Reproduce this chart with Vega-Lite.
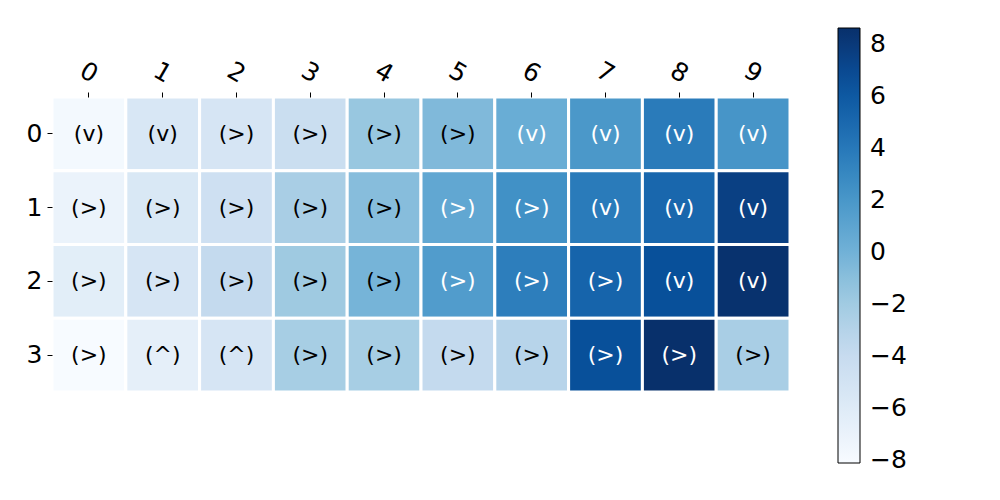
{
  "$schema": "https://vega.github.io/schema/vega-lite/v6.json",
  "width": 738,
  "height": 295,
  "autosize": "none",
  "padding": {"left": 52, "top": 97, "right": 210, "bottom": 108},
  "background": "white",
  "config": {
    "view": {"stroke": null},
    "font": "DejaVu Sans"
  },
  "data": {
    "values": [
      {"row": "0", "col": "0", "value": -7.8, "label": "(v)"},
      {"row": "0", "col": "1", "value": -5.5, "label": "(v)"},
      {"row": "0", "col": "2", "value": -5.3, "label": "(>)"},
      {"row": "0", "col": "3", "value": -4.3, "label": "(>)"},
      {"row": "0", "col": "4", "value": -1.6, "label": "(>)"},
      {"row": "0", "col": "5", "value": -0.6, "label": "(>)"},
      {"row": "0", "col": "6", "value": 0.35, "label": "(v)"},
      {"row": "0", "col": "7", "value": 1.9, "label": "(v)"},
      {"row": "0", "col": "8", "value": 3.8, "label": "(v)"},
      {"row": "0", "col": "9", "value": 2.1, "label": "(v)"},
      {"row": "1", "col": "0", "value": -7.1, "label": "(>)"},
      {"row": "1", "col": "1", "value": -5.6, "label": "(>)"},
      {"row": "1", "col": "2", "value": -4.6, "label": "(>)"},
      {"row": "1", "col": "3", "value": -2.4, "label": "(>)"},
      {"row": "1", "col": "4", "value": -0.9, "label": "(>)"},
      {"row": "1", "col": "5", "value": 0.8, "label": "(>)"},
      {"row": "1", "col": "6", "value": 2.4, "label": "(>)"},
      {"row": "1", "col": "7", "value": 3.8, "label": "(v)"},
      {"row": "1", "col": "8", "value": 5.1, "label": "(v)"},
      {"row": "1", "col": "9", "value": 7.6, "label": "(v)"},
      {"row": "2", "col": "0", "value": -6.4, "label": "(>)"},
      {"row": "2", "col": "1", "value": -5.3, "label": "(>)"},
      {"row": "2", "col": "2", "value": -3.8, "label": "(>)"},
      {"row": "2", "col": "3", "value": -1.9, "label": "(>)"},
      {"row": "2", "col": "4", "value": -0.2, "label": "(>)"},
      {"row": "2", "col": "5", "value": 1.6, "label": "(>)"},
      {"row": "2", "col": "6", "value": 3.6, "label": "(>)"},
      {"row": "2", "col": "7", "value": 5.3, "label": "(>)"},
      {"row": "2", "col": "8", "value": 6.6, "label": "(v)"},
      {"row": "2", "col": "9", "value": 8.5, "label": "(v)"},
      {"row": "3", "col": "0", "value": -8.12, "label": "(>)"},
      {"row": "3", "col": "1", "value": -6.6, "label": "(^)"},
      {"row": "3", "col": "2", "value": -5.3, "label": "(^)"},
      {"row": "3", "col": "3", "value": -2.3, "label": "(>)"},
      {"row": "3", "col": "4", "value": -2.3, "label": "(>)"},
      {"row": "3", "col": "5", "value": -3.8, "label": "(>)"},
      {"row": "3", "col": "6", "value": -3.1, "label": "(>)"},
      {"row": "3", "col": "7", "value": 6.6, "label": "(>)"},
      {"row": "3", "col": "8", "value": 8.62, "label": "(>)"},
      {"row": "3", "col": "9", "value": -2.4, "label": "(>)"}
    ]
  },
  "encoding": {
    "x": {
      "field": "col",
      "type": "ordinal",
      "scale": {"paddingInner": 0, "paddingOuter": 0},
      "axis": {
        "orient": "top",
        "title": null,
        "domain": false,
        "labelAngle": 30,
        "labelAlign": "center",
        "labelBaseline": "middle",
        "labelFontSize": 25,
        "labelColor": "black",
        "labelPadding": 20,
        "tickColor": "black",
        "tickSize": 5,
        "tickWidth": 1
      }
    },
    "y": {
      "field": "row",
      "type": "ordinal",
      "scale": {"paddingInner": 0, "paddingOuter": 0},
      "axis": {
        "title": null,
        "domain": false,
        "labelAngle": 0,
        "labelFontSize": 25,
        "labelColor": "black",
        "labelPadding": 5,
        "tickColor": "black",
        "tickSize": 5,
        "tickWidth": 1
      }
    }
  },
  "layer": [
    {
      "mark": {"type": "rect", "stroke": "white", "strokeWidth": 3},
      "encoding": {
        "color": {
          "field": "value",
          "type": "quantitative",
          "scale": {
            "type": "linear",
            "domain": [-8.12, -6.0275, -3.935, -1.8425, 0.25, 2.3425, 4.435, 6.5275, 8.62],
            "range": ["#f7fbff", "#deebf7", "#c6dbef", "#9ecae1", "#6baed6", "#4292c6", "#2171b5", "#08519c", "#08306b"]
          },
          "legend": {
            "orient": "none",
            "legendX": 786,
            "legendY": -69,
            "direction": "vertical",
            "title": null,
            "gradientLength": 435,
            "gradientThickness": 22,
            "gradientStrokeColor": "black",
            "gradientStrokeWidth": 1,
            "values": [-8, -6, -4, -2, 0, 2, 4, 6, 8],
            "labelFontSize": 25,
            "labelColor": "black",
            "labelOffset": 10,
            "labelOverlap": false,
            "padding": 0,
            "offset": 0
          }
        }
      }
    },
    {
      "mark": {"type": "text", "fontSize": 22, "font": "DejaVu Sans"},
      "encoding": {
        "text": {"field": "label"},
        "color": {
          "condition": {"test": "datum.value > 0.25", "value": "white"},
          "value": "black"
        }
      }
    }
  ]
}
